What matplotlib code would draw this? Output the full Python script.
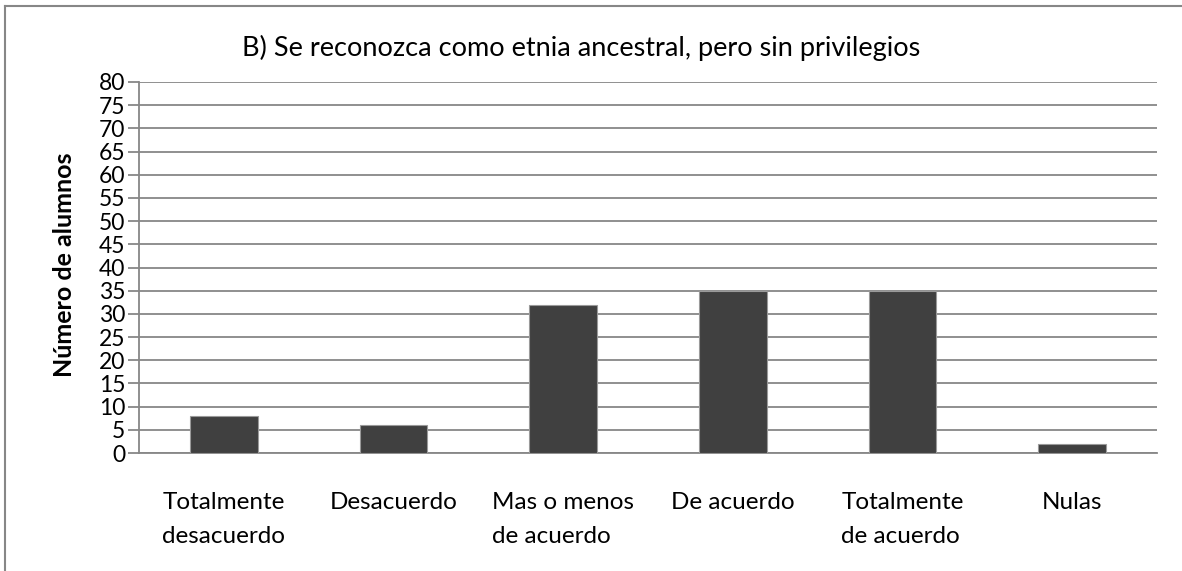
import matplotlib
matplotlib.use("Agg")
import matplotlib.pyplot as plt
from matplotlib.lines import Line2D

categories = ["Totalmente\ndesacuerdo", "Desacuerdo", "Mas o menos\nde acuerdo",
              "De acuerdo", "Totalmente\nde acuerdo", "Nulas"]
values = [8, 6, 32, 35, 35, 2]
yticks = list(range(0, 81, 5))
title = "B) Se reconozca como etnia ancestral, pero sin privilegios"
ylabel = "Número de alumnos"

plt.rcParams['font.family'] = ['Lato', 'DejaVu Sans']

W, H = 1182, 571
fig = plt.figure(figsize=(W / 100, H / 100), dpi=100)
ax = fig.add_axes([139 / W, 1 - 453 / H, (1157 - 139) / W, (453 - 82) / H])

x = list(range(len(categories)))
ax.bar(x, values, width=0.4, color="#404040", edgecolor="#9a9a9a", linewidth=0.8, zorder=3)
ax.set_xlim(-0.5, len(categories) - 0.5)
ax.set_ylim(0, 80)
ax.set_yticks(yticks)
ax.set_yticklabels([str(v) for v in yticks], fontsize=16.5)
ax.yaxis.grid(True, color="#878787", linewidth=1.3, zorder=0)
ax.set_axisbelow(True)
ax.set_xticks(x)
ax.set_xticklabels(categories, fontsize=17.5, linespacing=1.75, va="top",
                   multialignment="left")
ax.tick_params(axis="x", length=0, pad=28)
ax.tick_params(axis="y", length=8, width=1.3, color="#878787", pad=2)
for s in ["top", "right"]:
    ax.spines[s].set_visible(False)
ax.spines["left"].set_color("#878787")
ax.spines["left"].set_linewidth(1.3)
ax.spines["bottom"].set_color("#878787")
ax.spines["bottom"].set_linewidth(1.3)

fig.text(581 / W, 1 - 48 / H, title, fontsize=19.5, ha="center", va="center")
fig.text(64 / W, 1 - 265 / H, ylabel, fontsize=18, fontweight="bold",
         rotation=90, ha="center", va="center")

fig.add_artist(Line2D([5 / W, 5 / W], [0, 1 - 6 / H], color="#878787", linewidth=1.5,
                      transform=fig.transFigure))
fig.add_artist(Line2D([5 / W, 1], [1 - 6 / H, 1 - 6 / H], color="#878787", linewidth=1.5,
                      transform=fig.transFigure))

fig.savefig("out.png", dpi=100, facecolor="white")
